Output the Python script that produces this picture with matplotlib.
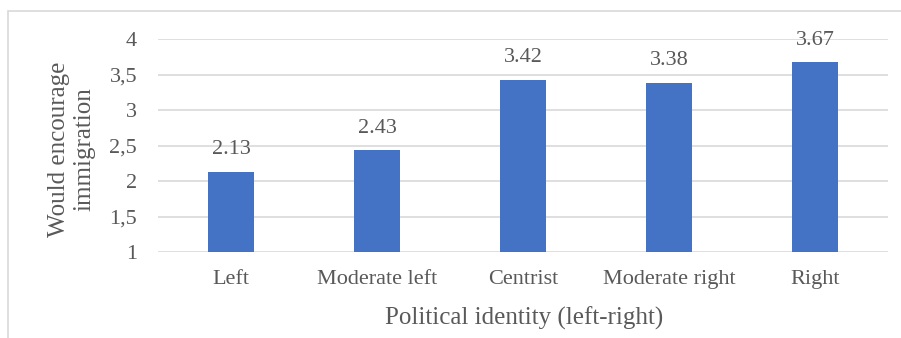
import matplotlib.pyplot as plt
from matplotlib.patches import Rectangle

# data
categories = ["Left", "Moderate left", "Centrist", "Moderate right", "Right"]
values = [2.13, 2.43, 3.42, 3.38, 3.67]
yticks = [1, 1.5, 2, 2.5, 3, 3.5, 4]
ytick_labels = ["1", "1,5", "2", "2,5", "3", "3,5", "4"]

plt.rcParams['font.family'] = ['Liberation Serif', 'DejaVu Serif']
txt = '#595959'

fig = plt.figure(figsize=(9.01, 3.38), dpi=100)
# outer chart border (runs off the right and bottom edge)
fig.patches.append(Rectangle((8/901, -0.1), 1.0, 1 - 11/338 + 0.1,
                             transform=fig.transFigure, fill=False,
                             edgecolor='#D9D9D9', linewidth=1.2))

ax = fig.add_axes([158/901, 1 - 252/338, 730/901, 213/338])
x = range(len(categories))
ax.bar(x, [v - 1 for v in values], bottom=1, width=0.315,
       color='#4472C4', zorder=3)
for xi, v in zip(x, values):
    ax.annotate(f"{v:.2f}", (xi, v), xytext=(0, 16), textcoords='offset points',
                ha='center', va='center', fontsize=16, color=txt)

ax.set_xlim(-0.5, 4.5)
ax.set_ylim(1, 4)
ax.set_yticks(yticks)
ax.set_yticklabels(ytick_labels)
ax.set_xticks(list(x))
ax.set_xticklabels(categories)
ax.tick_params(axis='both', length=0, labelsize=16, colors=txt)
ax.tick_params(axis='x', pad=13)
ax.tick_params(axis='y', pad=15)
ax.grid(axis='y', color='#D9D9D9', linewidth=1.2, zorder=0)
for s in ax.spines.values():
    s.set_visible(False)

fig.text(524/901, 1 - 318/338, "Political identity (left-right)", fontsize=18,
         color=txt, ha='center', va='center')
fig.text(72/901, 1 - 149/338, "Would encourage\nimmigration", fontsize=18,
         color=txt, ha='center', va='center', rotation=90, linespacing=1.2)

fig.savefig('out.png', dpi=100)
